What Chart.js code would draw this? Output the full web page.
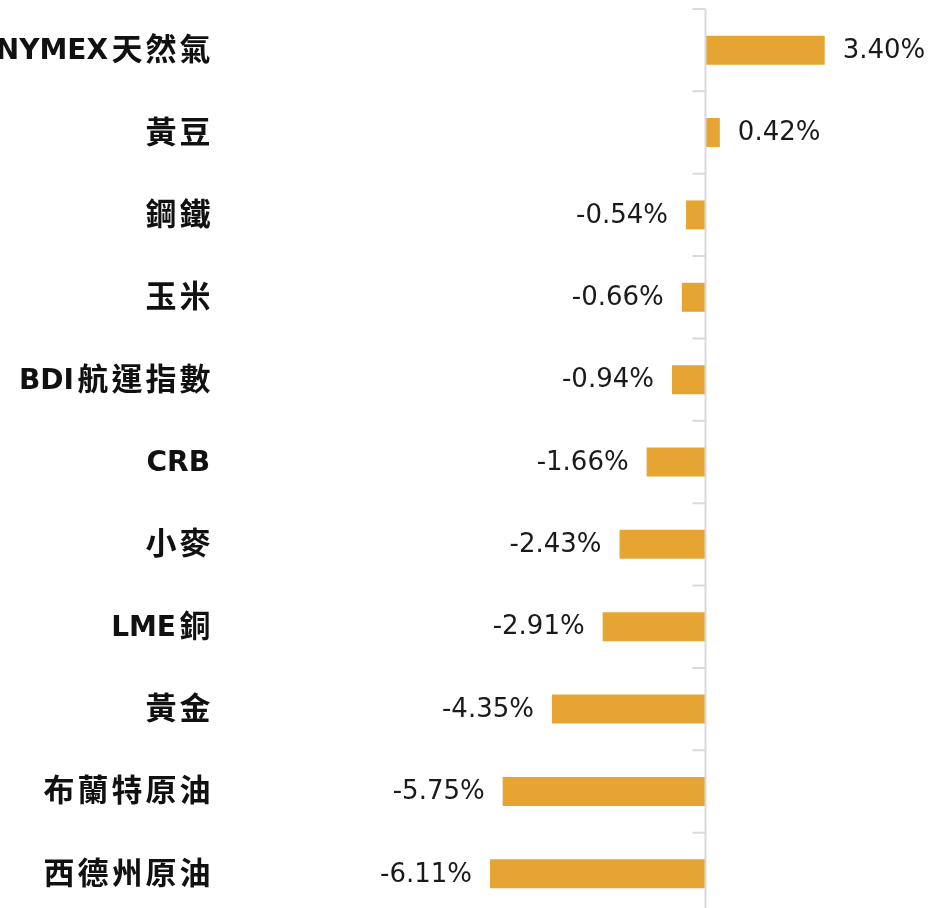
<!DOCTYPE html>
<html>
<head>
<meta charset="utf-8">
<script src="https://cdn.jsdelivr.net/npm/chart.js@4/dist/chart.umd.min.js"></script>
<style>
html,body{margin:0;padding:0;background:#fff;overflow:hidden;}
#wrap{position:relative;width:931px;height:916px;}
</style>
</head>
<body>
<div id="wrap"><canvas id="c" width="931" height="916"></canvas></div>
<script>
const categories = ['NYMEX天然氣','黃豆','鋼鐵','玉米','BDI航運指數','CRB','小麥','LME銅','黃金','布蘭特原油','西德州原油'];
const changes = [3.40, 0.42, -0.54, -0.66, -0.94, -1.66, -2.43, -2.91, -4.35, -5.75, -6.11];
const valueLabels = ['3.40%','0.42%','-0.54%','-0.66%','-0.94%','-1.66%','-2.43%','-2.91%','-4.35%','-5.75%','-6.11%'];

const LATIN_FONT = 'bold 28px "DejaVu Sans", sans-serif';
const CJK_FONT = 'bold 31px "Noto Sans CJK TC", sans-serif';
const CJK_ADV = 34;

function splitRuns(s) {
  const runs = [];
  for (const ch of s) {
    const cjk = /[\u3000-\u9fff\uf900-\ufaff]/.test(ch);
    if (runs.length && runs[runs.length - 1].cjk === cjk) runs[runs.length - 1].text += ch;
    else runs.push({ text: ch, cjk });
  }
  return runs;
}

const labelPlugin = {
  id: 'labelsAndAxis',
  afterDatasetsDraw(chart) {
    const ctx = chart.ctx, x = chart.scales.x, y = chart.scales.y, area = chart.chartArea;
    const x0 = Math.round(x.getPixelForValue(0)) + 0.5;
    ctx.save();
    // zero axis line with boundary ticks
    ctx.strokeStyle = '#d9d9d9';
    ctx.lineWidth = 2;
    ctx.beginPath();
    ctx.moveTo(x0, area.top);
    ctx.lineTo(x0, area.bottom);
    const n = categories.length;
    const step = (area.bottom - area.top) / n;
    for (let i = 0; i <= n; i++) {
      const yy = area.top + i * step;
      ctx.moveTo(x0 - 13, yy);
      ctx.lineTo(x0, yy);
    }
    ctx.stroke();

    // category labels (right aligned)
    const right = y.right - 13;
    ctx.fillStyle = '#111';
    ctx.textBaseline = 'alphabetic';
    ctx.textAlign = 'left';
    categories.forEach((lab, i) => {
      const cy = y.getPixelForValue(i);
      const runs = splitRuns(lab);
      let total = 0;
      runs.forEach(r => {
        if (r.cjk) r.w = CJK_ADV * [...r.text].length;
        else { ctx.font = LATIN_FONT; r.w = ctx.measureText(r.text).width + 2; }
        total += r.w;
      });
      let xx = right - total;
      runs.forEach(r => {
        if (r.cjk) {
          ctx.font = CJK_FONT;
          for (const ch of r.text) {
            ctx.fillText(ch, xx + (CJK_ADV - 31) / 2, cy + 10);
            xx += CJK_ADV;
          }
        } else {
          ctx.font = LATIN_FONT;
          ctx.fillText(r.text, xx, cy + 9);
          xx += r.w;
        }
      });
    });

    // value labels
    ctx.font = '26px "DejaVu Sans", sans-serif';
    ctx.fillStyle = '#1a1a1a';
    ctx.textBaseline = 'middle';
    const meta = chart.getDatasetMeta(0);
    meta.data.forEach((bar, i) => {
      const v = changes[i];
      if (v >= 0) { ctx.textAlign = 'left'; ctx.fillText(valueLabels[i], bar.x + 18, bar.y + 1); }
      else { ctx.textAlign = 'right'; ctx.fillText(valueLabels[i], bar.x - 18, bar.y + 1); }
    });
    ctx.restore();
  }
};

new Chart(document.getElementById('c'), {
  type: 'bar',
  data: {
    labels: categories,
    datasets: [{
      data: changes,
      backgroundColor: '#E6A532',
      borderWidth: 0,
      barPercentage: 0.352,
      categoryPercentage: 1
    }]
  },
  options: {
    indexAxis: 'y',
    responsive: false,
    animation: false,
    layout: { padding: { top: 9, bottom: 1, left: 0, right: 0 } },
    plugins: { legend: { display: false }, tooltip: { enabled: false } },
    scales: {
      x: {
        min: -13.64, max: 6.42,
        display: false
      },
      y: {
        afterFit(scale) { scale.width = 225; scale.paddingTop = 0; scale.paddingBottom = 0; },
        grid: { display: false, drawTicks: false },
        border: { display: false },
        ticks: { display: false }
      }
    }
  },
  plugins: [labelPlugin]
});
</script>
</body>
</html>
